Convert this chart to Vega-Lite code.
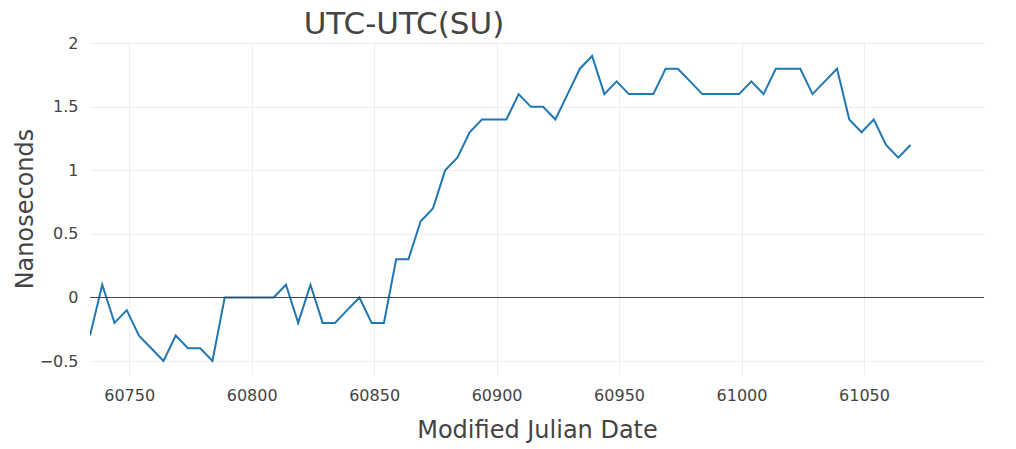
{
  "$schema": "https://vega.github.io/schema/vega-lite/v6.json",
  "autosize": "none",
  "width": 894,
  "height": 333,
  "padding": {"left": 90, "top": 42, "right": 32, "bottom": 74},
  "background": "white",
  "title": {
    "text": "UTC-UTC(SU)",
    "anchor": "middle",
    "dx": -133,
    "dy": 10,
    "fontSize": 31,
    "fontWeight": "normal",
    "font": "DejaVu Sans",
    "color": "#444",
    "offset": 4
  },
  "data": {
    "values": [
      {"mjd": 60734, "ns": -0.3}, {"mjd": 60739, "ns": 0.1}, {"mjd": 60744, "ns": -0.2},
      {"mjd": 60749, "ns": -0.1}, {"mjd": 60754, "ns": -0.3}, {"mjd": 60759, "ns": -0.4},
      {"mjd": 60764, "ns": -0.5}, {"mjd": 60769, "ns": -0.3}, {"mjd": 60774, "ns": -0.4},
      {"mjd": 60779, "ns": -0.4}, {"mjd": 60784, "ns": -0.5}, {"mjd": 60789, "ns": 0.0},
      {"mjd": 60794, "ns": 0.0}, {"mjd": 60799, "ns": 0.0}, {"mjd": 60804, "ns": 0.0},
      {"mjd": 60809, "ns": 0.0}, {"mjd": 60814, "ns": 0.1}, {"mjd": 60819, "ns": -0.2},
      {"mjd": 60824, "ns": 0.1}, {"mjd": 60829, "ns": -0.2}, {"mjd": 60834, "ns": -0.2},
      {"mjd": 60839, "ns": -0.1}, {"mjd": 60844, "ns": 0.0}, {"mjd": 60849, "ns": -0.2},
      {"mjd": 60854, "ns": -0.2}, {"mjd": 60859, "ns": 0.3}, {"mjd": 60864, "ns": 0.3},
      {"mjd": 60869, "ns": 0.6}, {"mjd": 60874, "ns": 0.7}, {"mjd": 60879, "ns": 1.0},
      {"mjd": 60884, "ns": 1.1}, {"mjd": 60889, "ns": 1.3}, {"mjd": 60894, "ns": 1.4},
      {"mjd": 60899, "ns": 1.4}, {"mjd": 60904, "ns": 1.4}, {"mjd": 60909, "ns": 1.6},
      {"mjd": 60914, "ns": 1.5}, {"mjd": 60919, "ns": 1.5}, {"mjd": 60924, "ns": 1.4},
      {"mjd": 60929, "ns": 1.6}, {"mjd": 60934, "ns": 1.8}, {"mjd": 60939, "ns": 1.9},
      {"mjd": 60944, "ns": 1.6}, {"mjd": 60949, "ns": 1.7}, {"mjd": 60954, "ns": 1.6},
      {"mjd": 60959, "ns": 1.6}, {"mjd": 60964, "ns": 1.6}, {"mjd": 60969, "ns": 1.8},
      {"mjd": 60974, "ns": 1.8}, {"mjd": 60979, "ns": 1.7}, {"mjd": 60984, "ns": 1.6},
      {"mjd": 60989, "ns": 1.6}, {"mjd": 60994, "ns": 1.6}, {"mjd": 60999, "ns": 1.6},
      {"mjd": 61004, "ns": 1.7}, {"mjd": 61009, "ns": 1.6}, {"mjd": 61014, "ns": 1.8},
      {"mjd": 61019, "ns": 1.8}, {"mjd": 61024, "ns": 1.8}, {"mjd": 61029, "ns": 1.6},
      {"mjd": 61034, "ns": 1.7}, {"mjd": 61039, "ns": 1.8}, {"mjd": 61044, "ns": 1.4},
      {"mjd": 61049, "ns": 1.3}, {"mjd": 61054, "ns": 1.4}, {"mjd": 61059, "ns": 1.2},
      {"mjd": 61064, "ns": 1.1}, {"mjd": 61069, "ns": 1.2}
    ]
  },
  "layer": [
    {
      "mark": {"type": "line", "color": "#1f77b4", "strokeWidth": 2, "clip": true},
      "encoding": {
        "x": {
          "field": "mjd",
          "type": "quantitative",
          "title": "Modified Julian Date",
          "scale": {"domain": [60734, 61099], "nice": false, "zero": false},
          "axis": {
            "values": [60750, 60800, 60850, 60900, 60950, 61000, 61050],
            "format": "d",
            "labelPadding": 12,
            "titlePadding": 15
          }
        },
        "y": {
          "field": "ns",
          "type": "quantitative",
          "title": "Nanoseconds",
          "scale": {"domain": [-0.61, 2.01], "nice": false, "zero": false},
          "axis": {
            "values": [-0.5, 0, 0.5, 1, 1.5, 2],
            "format": ".2~f",
            "labelPadding": 12,
            "titlePadding": 2
          }
        }
      }
    },
    {
      "data": {"values": [{"ns": 0}]},
      "mark": {"type": "rule", "color": "#444", "strokeWidth": 1},
      "encoding": {"y": {"field": "ns", "type": "quantitative"}}
    }
  ],
  "config": {
    "view": {"stroke": null},
    "font": "DejaVu Sans",
    "axis": {
      "grid": true,
      "gridColor": "#eeeeee",
      "gridWidth": 1,
      "domain": false,
      "ticks": false,
      "labelFont": "DejaVu Sans",
      "labelFontSize": 16,
      "labelColor": "#444",
      "titleFont": "DejaVu Sans",
      "titleFontSize": 24,
      "titleFontWeight": "normal",
      "titleColor": "#444"
    }
  }
}
